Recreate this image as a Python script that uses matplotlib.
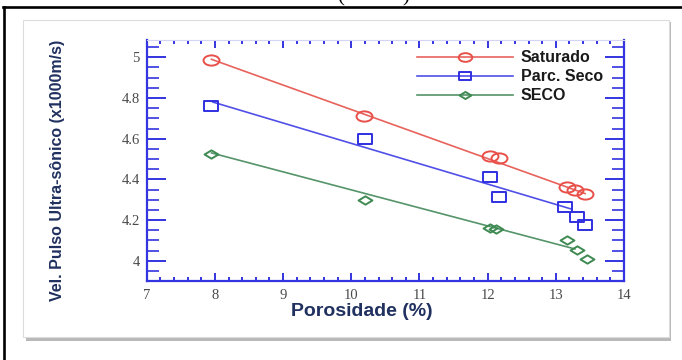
import matplotlib
matplotlib.use("Agg")
import matplotlib.pyplot as plt
import numpy as np
from matplotlib.path import Path
from matplotlib.transforms import Affine2D
from matplotlib.patches import Rectangle
from matplotlib.lines import Line2D
from matplotlib.ticker import MultipleLocator

# ---------------- data ----------------
series_names = ["Saturado", "Parc. Seco", "SECO"]

por_sat = [7.95, 10.19, 12.04, 12.16, 13.16, 13.28, 13.43]
vel_sat = [4.985, 4.71, 4.517, 4.506, 4.361, 4.348, 4.328]

por_parc = [7.95, 10.20, 12.04, 12.16, 13.14, 13.31, 13.43]
vel_parc = [4.759, 4.60, 4.41, 4.312, 4.266, 4.217, 4.177]

por_seco = [7.95, 10.20, 12.03, 12.13, 13.16, 13.31, 13.46]
vel_seco = [4.526, 4.299, 4.161, 4.158, 4.102, 4.053, 4.008]

fit_x_sat = [7.95, 13.43]
fit_y_sat = [4.99, 4.33]
fit_x_parc = [7.97, 13.22]
fit_y_parc = [4.78, 4.255]
fit_x_seco = [7.95, 13.28]
fit_y_seco = [4.53, 4.058]

x_ticks = [7, 8, 9, 10, 11, 12, 13, 14]
y_ticks = [4.0, 4.2, 4.4, 4.6, 4.8, 5.0]
y_tick_labels = ["4", "4.2", "4.4", "4.6", "4.8", "5"]

# ---------------- styling ----------------
W, H = 682, 360
fig = plt.figure(figsize=(W / 100, H / 100), dpi=100)
fig.patch.set_facecolor("white")

def fx(px):
    return px / W

def fy(py):
    return (H - py) / H

# card with shadow
shadow = Rectangle((fx(25.5), fy(340.5)), fx(670.5) - fx(25.5), fy(22) - fy(340.5),
                   transform=fig.transFigure, facecolor="#a8a8a8", edgecolor="none",
                   zorder=-3, alpha=0.8)
fig.add_artist(shadow)
card = Rectangle((fx(22.7), fy(337)), fx(669) - fx(22.7), fy(20) - fy(337),
                 transform=fig.transFigure, facecolor="white", edgecolor="#dcdcdc",
                 linewidth=0.8, zorder=-2)
fig.add_artist(card)

# outer black frame (top and left)
fig.add_artist(Line2D([fx(3), fx(682)], [fy(7), fy(7)], transform=fig.transFigure,
                      color="black", linewidth=1.9, zorder=5))
fig.add_artist(Line2D([fx(4), fx(4)], [fy(7), fy(362)], transform=fig.transFigure,
                      color="black", linewidth=1.9, zorder=5))

# partly cut text at top (as in the reference)
fig.text(fx(341), fy(1.5), "(", fontsize=15, family="Liberation Serif",
         ha="center", va="baseline", color="black")
fig.text(fx(406), fy(1.5), ")", fontsize=15, family="Liberation Serif",
         ha="center", va="baseline", color="black")

ax = fig.add_axes([fx(146.7), fy(280.7), fx(624) - fx(146.7), fy(40) - fy(280.7)])
ax.set_facecolor("none")

# custom stretched markers
ellipse = Affine2D().scale(1.0, 0.64).transform_path(Path.unit_circle())
rect_verts = [(-1, -0.68), (1, -0.68), (1, 0.68), (-1, 0.68), (-1, -0.68)]
rect_path = Path(rect_verts, [Path.MOVETO, Path.LINETO, Path.LINETO, Path.LINETO, Path.CLOSEPOLY])
diam_verts = [(-1, 0), (0, 0.6), (1, 0), (0, -0.6), (-1, 0)]
diam_path = Path(diam_verts, [Path.MOVETO, Path.LINETO, Path.LINETO, Path.LINETO, Path.CLOSEPOLY])

red_m, red_l = "#e8504a", "#e8625c"
blue_m, blue_l = "#2f2fe0", "#5050e8"
green_m, green_l = "#3f8a52", "#55946a"

series = [
    (por_sat, vel_sat, fit_x_sat, fit_y_sat, ellipse, 11.5, red_m, red_l),
    (por_parc, vel_parc, fit_x_parc, fit_y_parc, rect_path, 10, green_m if False else blue_m, blue_l),
    (por_seco, vel_seco, fit_x_seco, fit_y_seco, diam_path, 10, green_m, green_l),
]

handles = []
for name, (xs, ys, lx, ly, mk, ms, mc, lc) in zip(series_names, series):
    ax.plot(xs, ys, linestyle="none", marker=mk, markersize=ms,
            markerfacecolor="none", markeredgecolor=mc, markeredgewidth=1.4, zorder=3)
    ax.plot(lx, ly, color=lc, linewidth=1.2, zorder=2)
    handles.append(Line2D([], [], color=lc, linewidth=1.2, marker=mk, markersize=ms * 0.85,
                          markerfacecolor="none", markeredgecolor=mc, markeredgewidth=1.4,
                          label=name))

ax.set_xlim(7, 14)
ax.set_ylim(3.902, 5.085)
ax.set_xticks(x_ticks)
ax.set_xticklabels([str(t) for t in x_ticks])
ax.set_yticks(y_ticks)
ax.set_yticklabels(y_tick_labels)
ax.xaxis.set_minor_locator(MultipleLocator(0.2))
ax.yaxis.set_minor_locator(MultipleLocator(0.05))

axc = "#3434e0"
for side in ["left", "right", "bottom"]:
    ax.spines[side].set_color(axc)
    ax.spines[side].set_linewidth(1.6)
ax.spines["top"].set_color("#d4d4f4")
ax.spines["top"].set_linewidth(0.8)

ax.tick_params(axis="y", which="major", direction="in", length=14, width=1.4,
               color=axc, left=True, right=True, pad=5)
ax.tick_params(axis="y", which="minor", direction="in", length=8.5, width=1.2,
               color=axc, left=True, right=True)
ax.tick_params(axis="x", which="major", direction="in", length=6, width=1.4,
               color=axc, top=True, bottom=True, pad=6)
ax.tick_params(axis="x", which="minor", direction="in", length=3, width=1.4,
               color=axc, top=True, bottom=True)
for lab in ax.get_xticklabels() + ax.get_yticklabels():
    lab.set_family("Liberation Serif")
    lab.set_fontsize(10.5)
    lab.set_color("#4a4a4a")

label_color = "#20305f"
ax.set_xlabel("Porosidade (%)", fontsize=14, fontweight="bold",
              family="Liberation Sans", color=label_color)
ax.xaxis.set_label_coords(fx(362), fy(312), transform=fig.transFigure)
ax.xaxis.label.set_va("center")
ax.set_ylabel("Vel. Pulso Ultra-sônico (x1000m/s)", fontsize=11.5, fontweight="bold",
              family="Liberation Sans", color=label_color)
ax.yaxis.set_label_coords(fx(58), fy(170), transform=fig.transFigure)
ax.yaxis.label.set_va("center")

leg_fs = 11.5
leg_fs_px = leg_fs * 100 / 72
leg = ax.legend(handles=handles, loc="upper left",
                bbox_to_anchor=(fx(416.7), fy(60 - leg_fs_px * 0.6)),
                bbox_transform=fig.transFigure, frameon=False, borderpad=0,
                borderaxespad=0, handlelength=96 / leg_fs_px, handletextpad=8 / leg_fs_px,
                labelspacing=(20 - leg_fs_px) / leg_fs_px, numpoints=1,
                prop={"family": "Liberation Sans", "weight": "bold", "size": leg_fs})
for t in leg.get_texts():
    t.set_color("#1a1a1a")

fig.savefig("out.png", dpi=100)
